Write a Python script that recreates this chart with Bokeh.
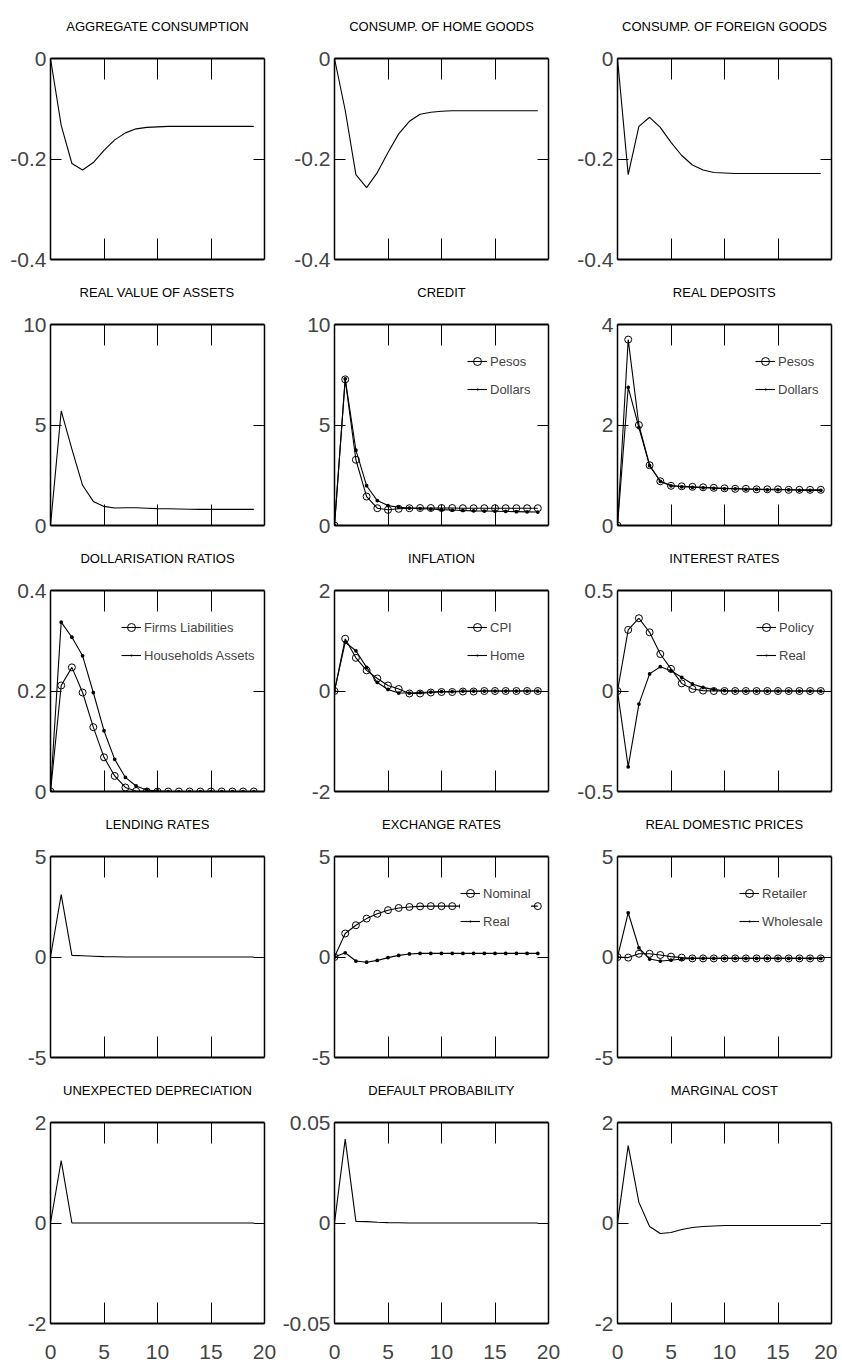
from bokeh.plotting import figure
from bokeh.layouts import gridplot
from bokeh.models import FixedTicker, LinearAxis, Range1d, Legend, LegendItem
from bokeh.embed import file_html
from bokeh.resources import INLINE

# ---------------- data ----------------
steps = list(range(20))

agg_consumption = [0, -0.133, -0.209, -0.222, -0.207, -0.183, -0.162, -0.148, -0.140, -0.137,
                   -0.136, -0.135, -0.135, -0.135, -0.135, -0.135, -0.135, -0.135, -0.135, -0.135]
home_consumption = [0, -0.103, -0.231, -0.257, -0.227, -0.187, -0.150, -0.125, -0.111, -0.107,
                    -0.105, -0.104, -0.104, -0.104, -0.104, -0.104, -0.104, -0.104, -0.104, -0.104]
foreign_consumption = [0, -0.231, -0.135, -0.117, -0.137, -0.167, -0.193, -0.212, -0.222, -0.227,
                       -0.228, -0.229, -0.229, -0.229, -0.229, -0.229, -0.229, -0.229, -0.229, -0.229]
real_assets = [0, 5.7, 3.8, 2.0, 1.2, 0.95, 0.87, 0.88, 0.88, 0.86,
               0.84, 0.83, 0.82, 0.81, 0.80, 0.80, 0.80, 0.80, 0.80, 0.80]
credit_pesos = [0, 7.27, 3.27, 1.44, 0.86, 0.78, 0.83, 0.86, 0.87, 0.87,
                0.87, 0.87, 0.86, 0.86, 0.86, 0.86, 0.86, 0.86, 0.86, 0.86]
credit_dollars = [0, 7.30, 3.75, 1.98, 1.24, 0.99, 0.91, 0.87, 0.84, 0.82,
                  0.79, 0.77, 0.75, 0.73, 0.72, 0.71, 0.70, 0.69, 0.68, 0.67]
deposits_pesos = [0, 3.70, 2.00, 1.20, 0.88, 0.79, 0.78, 0.77, 0.76, 0.75,
                  0.74, 0.73, 0.73, 0.72, 0.72, 0.72, 0.71, 0.71, 0.71, 0.71]
deposits_dollars = [0, 2.75, 1.95, 1.19, 0.88, 0.79, 0.77, 0.76, 0.75, 0.74,
                    0.73, 0.73, 0.72, 0.72, 0.71, 0.71, 0.71, 0.70, 0.70, 0.70]
dollar_firms = [0, 0.211, 0.247, 0.197, 0.128, 0.068, 0.031, 0.008, 0.001, 0,
                0, 0, 0, 0, 0, 0, 0, 0, 0, 0]
dollar_households = [0, 0.337, 0.307, 0.270, 0.197, 0.121, 0.064, 0.028, 0.011, 0.003,
                     0.001, 0, 0, 0, 0, 0, 0, 0, 0, 0]
inflation_cpi = [0, 1.04, 0.66, 0.41, 0.25, 0.11, 0.04, -0.05, -0.05, -0.03,
                 -0.02, -0.02, -0.01, -0.01, 0, 0, 0, 0, 0, 0]
inflation_home = [0, 0.97, 0.80, 0.47, 0.17, 0.03, -0.04, -0.04, -0.03, -0.02,
                  -0.01, -0.01, 0, 0, 0, 0, 0, 0, 0, 0]
rate_policy = [0, 0.304, 0.362, 0.292, 0.184, 0.110, 0.038, 0.010, 0.002, 0,
               0, 0, 0, 0, 0, 0, 0, 0, 0, 0]
rate_real = [0, -0.377, -0.065, 0.085, 0.121, 0.101, 0.068, 0.035, 0.018, 0.007,
             0.002, 0, 0, 0, 0, 0, 0, 0, 0, 0]
lending_rates = [0, 3.1, 0.08, 0.06, 0.04, 0.02, 0.01, 0, 0, 0,
                 0, 0, 0, 0, 0, 0, 0, 0, 0, 0]
exch_nominal = [0, 1.17, 1.58, 1.91, 2.15, 2.33, 2.44, 2.49, 2.52, 2.53,
                2.53, 2.53, 2.53, 2.53, 2.53, 2.53, 2.53, 2.53, 2.53, 2.53]
exch_real = [0, 0.21, -0.20, -0.26, -0.17, -0.03, 0.08, 0.15, 0.18, 0.18,
             0.18, 0.18, 0.18, 0.18, 0.18, 0.18, 0.18, 0.18, 0.18, 0.18]
price_retailer = [0, -0.03, 0.16, 0.16, 0.10, 0.02, -0.03, -0.07, -0.07, -0.07,
                  -0.07, -0.07, -0.07, -0.07, -0.07, -0.07, -0.07, -0.07, -0.07, -0.07]
price_wholesale = [0, 2.2, 0.46, -0.10, -0.20, -0.16, -0.10, -0.07, -0.07, -0.07,
                   -0.07, -0.07, -0.07, -0.07, -0.07, -0.07, -0.07, -0.07, -0.07, -0.07]
unexpected_dep = [0, 1.24, 0, 0, 0, 0, 0, 0, 0, 0,
                  0, 0, 0, 0, 0, 0, 0, 0, 0, 0]
default_prob = [0, 0.0417, 0.0008, 0.0007, 0.0004, 0.0002, 0.0001, 0, 0, 0,
                0, 0, 0, 0, 0, 0, 0, 0, 0, 0]
marginal_cost = [0, 1.54, 0.41, -0.07, -0.21, -0.19, -0.13, -0.09, -0.07, -0.06,
                 -0.05, -0.05, -0.05, -0.05, -0.05, -0.05, -0.05, -0.05, -0.05, -0.05]

x_ticks = [0, 5, 10, 15, 20]
x_tick_labels = ["0", "5", "10", "15", "20"]

# panel definitions: title, y-range, y tick values, y tick labels, series, legend x offset
panels = [
    ("AGGREGATE CONSUMPTION", (-0.4, 0), [-0.4, -0.2, 0], ["-0.4", "-0.2", "0"],
     [(agg_consumption, None, None)], None),
    ("CONSUMP. OF HOME GOODS", (-0.4, 0), [-0.4, -0.2, 0], ["-0.4", "-0.2", "0"],
     [(home_consumption, None, None)], None),
    ("CONSUMP. OF FOREIGN GOODS", (-0.4, 0), [-0.4, -0.2, 0], ["-0.4", "-0.2", "0"],
     [(foreign_consumption, None, None)], None),
    ("REAL VALUE OF ASSETS", (0, 10), [0, 5, 10], ["0", "5", "10"],
     [(real_assets, None, None)], None),
    ("CREDIT", (0, 10), [0, 5, 10], ["0", "5", "10"],
     [(credit_pesos, "o", "Pesos"), (credit_dollars, ".", "Dollars")], 133),
    ("REAL DEPOSITS", (0, 4), [0, 2, 4], ["0", "2", "4"],
     [(deposits_pesos, "o", "Pesos"), (deposits_dollars, ".", "Dollars")], 138),
    ("DOLLARISATION RATIOS", (0, 0.4), [0, 0.2, 0.4], ["0", "0.2", "0.4"],
     [(dollar_firms, "o", "Firms Liabilities"), (dollar_households, ".", "Households Assets")], 71),
    ("INFLATION", (-2, 2), [-2, 0, 2], ["-2", "0", "2"],
     [(inflation_cpi, "o", "CPI"), (inflation_home, ".", "Home")], 133),
    ("INTEREST RATES", (-0.5, 0.5), [-0.5, 0, 0.5], ["-0.5", "0", "0.5"],
     [(rate_policy, "o", "Policy"), (rate_real, ".", "Real")], 139),
    ("LENDING RATES", (-5, 5), [-5, 0, 5], ["-5", "0", "5"],
     [(lending_rates, None, None)], None),
    ("EXCHANGE RATES", (-5, 5), [-5, 0, 5], ["-5", "0", "5"],
     [(exch_nominal, "o", "Nominal"), (exch_real, ".", "Real")], 126),
    ("REAL DOMESTIC PRICES", (-5, 5), [-5, 0, 5], ["-5", "0", "5"],
     [(price_retailer, "o", "Retailer"), (price_wholesale, ".", "Wholesale")], 122),
    ("UNEXPECTED DEPRECIATION", (-2, 2), [-2, 0, 2], ["-2", "0", "2"],
     [(unexpected_dep, None, None)], None),
    ("DEFAULT PROBABILITY", (-0.05, 0.05), [-0.05, 0, 0.05], ["-0.05", "0", "0.05"],
     [(default_prob, None, None)], None),
    ("MARGINAL COST", (-2, 2), [-2, 0, 2], ["-2", "0", "2"],
     [(marginal_cost, None, None)], None),
]

FONT = "Liberation Sans"
FRAME_W = 214
FRAME_H = 201
col_left = [50, 54, 54]
col_right = [15, 15, 6]


def make_panel(idx, spec):
    title, yr, yt, ytl, series, leg_x = spec
    row, col = divmod(idx, 3)
    last_row = row == 4
    p = figure(frame_width=FRAME_W, frame_height=FRAME_H,
               x_range=Range1d(0, 20), y_range=Range1d(*yr),
               x_axis_location=None, y_axis_location=None,
               toolbar_location=None, output_backend="svg",
               min_border_left=col_left[col], min_border_right=col_right[col],
               min_border_top=58 if row == 0 else 50,
               min_border_bottom=46 if last_row else 15,
               title=title)
    p.grid.grid_line_color = None
    p.outline_line_color = None
    p.background_fill_color = "white"
    p.border_fill_color = "white"
    p.title.align = "center"
    p.title.vertical_align = "bottom"
    p.title.text_font = FONT
    p.title.text_font_size = "13px"
    p.title.text_font_style = "normal"
    p.title.text_color = "black"
    p.title.standoff = 4

    # bottom axis
    bt = x_ticks if last_row else [5, 10, 15]
    below = LinearAxis(ticker=FixedTicker(ticks=bt, minor_ticks=[]),
                       major_tick_in=21, major_tick_out=0, axis_line_width=2,
                       major_tick_line_width=1, minor_tick_line_color=None)
    if last_row:
        below.major_label_overrides = {t: l for t, l in zip(x_ticks, x_tick_labels)}
        below.major_label_text_font = FONT
        below.major_label_text_font_size = "21px"
        below.major_label_standoff = 21
    else:
        below.major_label_overrides = {t: "" for t in bt}
        below.major_label_text_font_size = "1px"
        below.major_label_standoff = 0
    p.add_layout(below, "below")

    # top axis: blank labels reserve the gap between frame and title
    above = LinearAxis(ticker=FixedTicker(ticks=[5, 10, 15], minor_ticks=[]),
                       major_tick_in=21, major_tick_out=0, axis_line_width=2,
                       major_tick_line_width=1, minor_tick_line_color=None,
                       major_label_text_font=FONT,
                       major_label_text_font_size="12px", major_label_standoff=6)
    above.major_label_overrides = {t: " " for t in [5, 10, 15]}
    p.add_layout(above, "above")

    left = LinearAxis(ticker=FixedTicker(ticks=yt, minor_ticks=[]),
                      major_tick_in=11, major_tick_out=0, axis_line_width=1.5,
                      major_tick_line_width=1, minor_tick_line_color=None,
                      major_label_text_font=FONT, major_label_text_font_size="21px",
                      major_label_standoff=4)
    left.major_label_overrides = {t: l for t, l in zip(yt, ytl)}
    p.add_layout(left, "left")

    right = LinearAxis(ticker=FixedTicker(ticks=[yt[1]], minor_ticks=[]),
                       major_tick_in=11, major_tick_out=0, axis_line_width=1.5,
                       major_tick_line_width=1, minor_tick_line_color=None,
                       major_label_text_font_size="1px", major_label_standoff=0)
    right.major_label_overrides = {yt[1]: ""}
    p.add_layout(right, "right")

    items = []
    for vals, mk, lab in series:
        ln = p.line(steps, vals, line_color="black", line_width=1.1)
        rends = [ln]
        if mk == "o":
            rends.append(p.scatter(steps, vals, marker="circle", size=7,
                                   line_color="black", fill_color=None, line_width=1))
        elif mk == ".":
            rends.append(p.scatter(steps, vals, marker="dot", size=15,
                                   line_color="black", fill_color="black"))
        if lab:
            items.append(LegendItem(label=lab, renderers=rends))
    if items:
        leg = Legend(items=items, location=(leg_x, 126), border_line_color=None,
                     background_fill_color="white", background_fill_alpha=1,
                     padding=8, spacing=8, margin=0, glyph_width=20, glyph_height=20,
                     label_height=20, label_standoff=3,
                     label_text_font=FONT, label_text_font_size="13px")
        p.add_layout(leg)
    return p


figs = [make_panel(i, s) for i, s in enumerate(panels)]
grid = gridplot([figs[i:i + 3] for i in range(0, 15, 3)], toolbar_location=None)

open("out.html", "w").write(file_html(grid, INLINE))
